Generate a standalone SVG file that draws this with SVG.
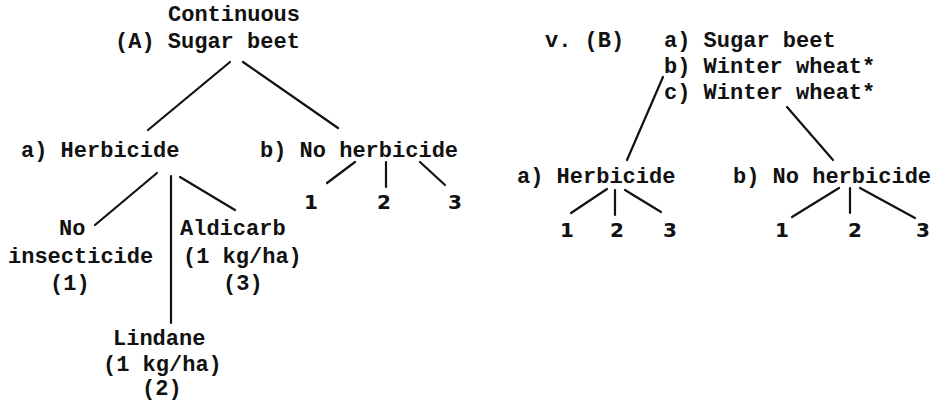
<svg xmlns="http://www.w3.org/2000/svg" width="941" height="403" viewBox="0 0 941 403">
<style>
.t{font-family:"Liberation Mono","DejaVu Sans Mono",monospace;font-weight:bold;font-size:22px;fill:#111}
.n{font-family:"DejaVu Sans","Liberation Sans",sans-serif;font-size:20px;font-weight:bold;fill:#111;text-anchor:middle}
.c line{stroke:#111;stroke-width:2.2;stroke-linecap:round}
</style>
<rect width="941" height="403" fill="#fff"/>
<g id="rootA"><text class="t" x="168" y="21">Continuous</text><text class="t" x="115" y="48">(A) Sugar beet</text></g>
<g id="A-herb"><text class="t" x="21" y="157">a) Herbicide</text></g>
<g id="A-noherb"><text class="t" x="260" y="157">b) No herbicide</text></g>
<g id="A-noins"><text class="t" x="59" y="235">No</text><text class="t" x="8" y="263">insecticide</text><text class="t" x="50" y="290">(1)</text></g>
<g id="A-aldicarb"><text class="t" x="180" y="235">Aldicarb</text><text class="t" x="183" y="263">(1 kg/ha)</text><text class="t" x="223" y="290">(3)</text></g>
<g id="A-lindane"><text class="t" x="113" y="345">Lindane</text><text class="t" x="103" y="371">(1 kg/ha)</text><text class="t" x="142" y="395">(2)</text></g>
<g id="A-nums"><text class="n" x="311" y="209">1</text><text class="n" x="384" y="209">2</text><text class="n" x="455" y="209">3</text></g>
<g id="rootB"><text class="t" x="545" y="47">v. (B)</text><text class="t" x="664" y="47">a) Sugar beet</text><text class="t" x="664" y="73">b) Winter wheat*</text><text class="t" x="664" y="99">c) Winter wheat*</text></g>
<g id="B-herb"><text class="t" x="517" y="183">a) Herbicide</text></g>
<g id="B-noherb"><text class="t" x="733" y="183">b) No herbicide</text></g>
<g id="B-nums"><text class="n" x="567" y="237">1</text><text class="n" x="617" y="237">2</text><text class="n" x="670" y="237">3</text><text class="n" x="782" y="237">1</text><text class="n" x="855" y="237">2</text><text class="n" x="923" y="237">3</text></g>
<g id="connectors" class="c">
<line x1="230" y1="62" x2="148" y2="130"/>
<line x1="243" y1="62" x2="338" y2="128"/>
<line x1="157" y1="173" x2="95" y2="225"/>
<line x1="171" y1="176" x2="171" y2="323"/>
<line x1="180" y1="177" x2="235" y2="210"/>
<line x1="355" y1="162" x2="327" y2="183"/>
<line x1="386" y1="162" x2="386" y2="187"/>
<line x1="420" y1="162" x2="445" y2="185"/>
<line x1="663" y1="77" x2="627" y2="160"/>
<line x1="787" y1="107" x2="833" y2="160"/>
<line x1="607" y1="189" x2="571" y2="213"/>
<line x1="615" y1="190" x2="615" y2="215"/>
<line x1="625" y1="190" x2="661" y2="212"/>
<line x1="839" y1="188" x2="792" y2="217"/>
<line x1="850" y1="188" x2="850" y2="213"/>
<line x1="860" y1="188" x2="915" y2="218"/>
</g>
</svg>
